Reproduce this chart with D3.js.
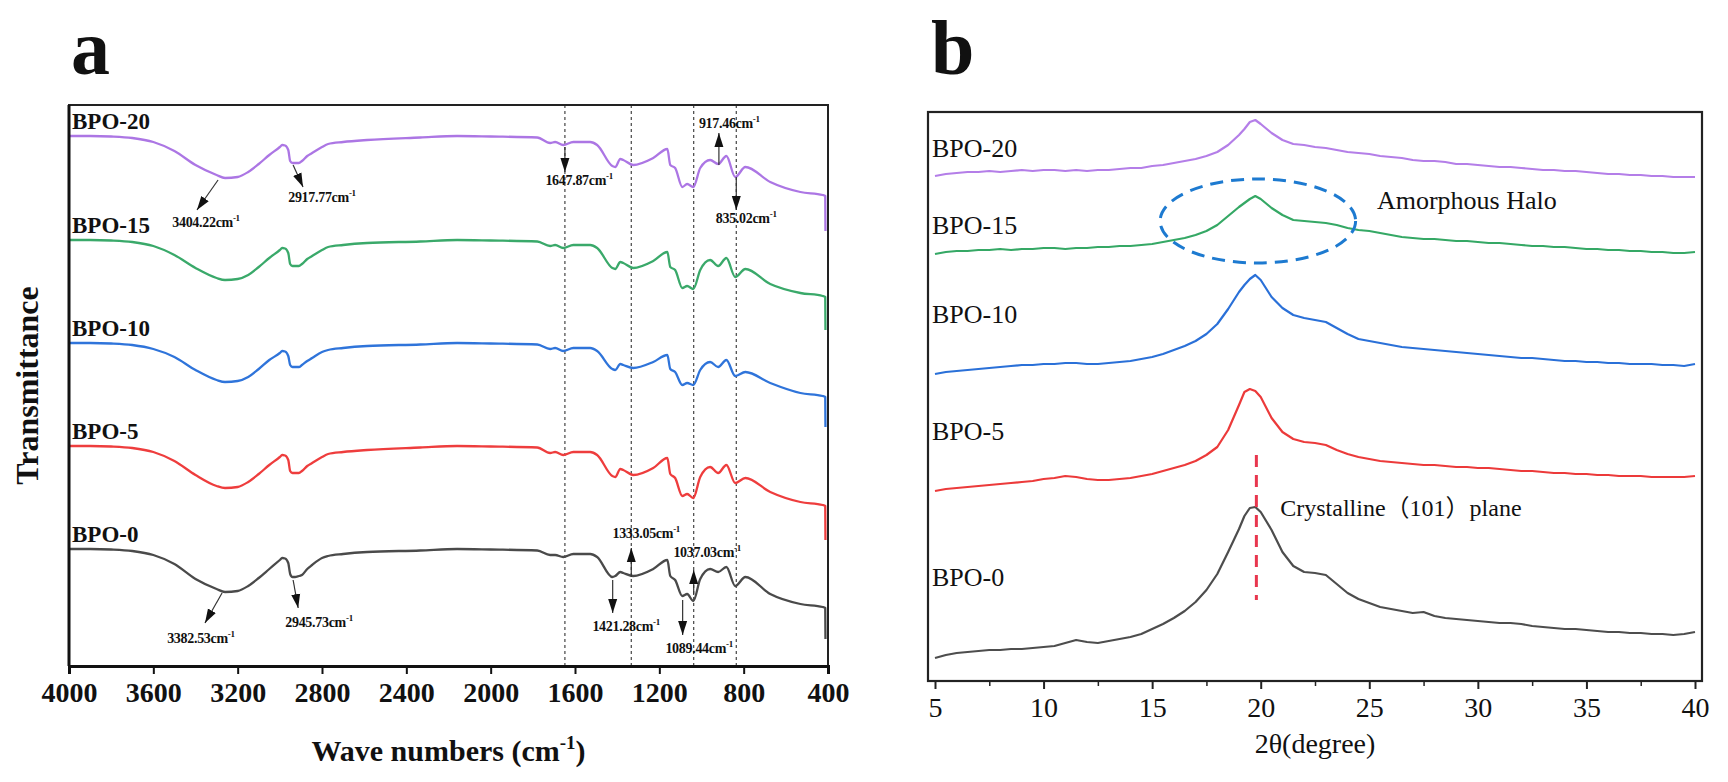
<!DOCTYPE html>
<html>
<head>
<meta charset="utf-8">
<script src="https://d3js.org/d3.v7.min.js"></script>
<style>
  html, body { margin: 0; padding: 0; background: #fff; }
  svg { display: block; }
  text { font-family: "Times New Roman", "Liberation Serif", "Noto Sans CJK SC", serif; fill: #111; }
</style>
</head>
<body>
<svg id="chart" width="1728" height="782"></svg>
<script>
// ---------- data: FTIR (panel a) ----------
const seriesNames = ["BPO-0", "BPO-5", "BPO-10", "BPO-15", "BPO-20"];
const seriesColors = ["#4a4a4a", "#ee3d3d", "#2f74da", "#3aa96a", "#ac76e4"];

const wavenumbers = [4000, 3900, 3800, 3700, 3600, 3500, 3400, 3300, 3260, 3200,
  3150, 3100, 3050, 3000, 2989, 2975, 2960, 2951, 2940, 2928,
  2910, 2895, 2870, 2847, 2800, 2771, 2700, 2586, 2334, 2159,
  2000, 1779, 1718, 1694, 1656, 1608, 1528, 1495, 1423, 1409,
  1385, 1371, 1324, 1229, 1162, 1148, 1125, 1091, 1068, 1039,
  1006, 959, 921, 882, 840, 792, 674, 531, 425, 413, 412];

// absorption drop below each trace's flat baseline (a.u.)
const dropBPO0 = [0, 0, 0.5, 2, 6, 15, 30, 40, 43, 42,
  37, 29, 20, 11, 9, 9.5, 14, 25, 28, 28,
  27, 26, 20, 16, 9, 7, 5, 3, 1.5, 0,
  0.5, 1.5, 6, 6, 8, 5, 5, 8, 28, 27,
  23, 24, 27, 20, 11, 27, 31, 47, 45, 52,
  30, 20, 23, 18, 37, 28, 45, 55, 58, 59, 90];
const dropBPO5 = [0, 0, 0.5, 2, 6, 15, 29, 40, 42, 41,
  36, 28, 19, 11, 9, 9.5, 14, 25, 27, 27,
  27, 25, 20, 17, 11, 8, 6, 4, 1.5, 0,
  0.5, 1.5, 7, 6, 9, 6, 6, 9, 30, 31,
  23, 24, 29, 22, 12, 28, 32, 50, 48, 52,
  31, 21, 27, 19, 37, 32, 46, 56, 59, 60, 94];
const dropBPO10 = [0, 0, 0.5, 2, 6, 14, 27, 37, 39, 38,
  34, 26, 17, 10, 8, 8.5, 13, 22, 24, 24,
  24, 22, 18, 15, 9, 7, 5, 3, 1.5, 0,
  0.5, 1.5, 6, 5, 8, 5, 5, 8, 26, 27,
  21, 22, 25, 19, 12, 26, 29, 42, 40, 42,
  27, 19, 24, 17, 33, 29, 40, 50, 53, 54, 84];
const dropBPO15 = [0, 0, 0.5, 2, 6, 15, 28, 38, 40, 39,
  35, 27, 18, 10, 8, 8.5, 13, 24, 26, 26,
  26, 24, 19, 16, 10, 7, 5, 3, 1.5, 0,
  0.5, 1.5, 6, 5, 8, 5, 5, 8, 28, 29,
  22, 23, 28, 21, 12, 27, 30, 48, 46, 49,
  30, 20, 26, 18, 37, 29, 44, 53, 56, 57, 90];
const dropBPO20 = [0, 0, 0.5, 2, 6, 15, 29, 39, 42, 41,
  36, 28, 19, 11, 9, 9.5, 14, 25, 27, 27,
  27, 25, 20, 17, 11, 8, 6, 4, 1.5, 0,
  0.5, 1.5, 7, 6, 9, 6, 6, 9, 30, 31,
  23, 24, 29, 22, 13, 29, 32, 51, 48, 51,
  32, 24, 28, 20, 41, 31, 46, 56, 59, 60, 95];
const ftirDrops = [dropBPO0, dropBPO5, dropBPO10, dropBPO15, dropBPO20];
// vertical offset of each trace (a.u.)
const ftirOffsets = [117, 220, 323, 426, 530];

const ftirTicks = [4000, 3600, 3200, 2800, 2400, 2000, 1600, 1200, 800, 400];
const ftirGuides = [1647.87, 1333.05, 1037.03, 835.02];

// peak callouts: arrow from -> to, label centre at "at" (wavenumber, a.u.)
const ftirPeaks = [
  { text: "3404.22", from: [3293, 486], to: [3393, 456], at: [3350, 444] },
  { text: "2917.77", from: [2937, 501], to: [2890, 479], at: [2800, 469] },
  { text: "1647.87", from: [1647.87, 519], to: [1647.87, 494], at: [1580, 486] },
  { text: "917.46", from: [917.46, 501], to: [917.46, 533], at: [868, 543] },
  { text: "835.02", from: [835.02, 489], to: [835.02, 456], at: [788, 448] },
  { text: "3382.53", from: [3274, 73], to: [3355, 43], at: [3374, 28] },
  { text: "2945.73", from: [2937, 86], to: [2913, 58], at: [2814, 44] },
  { text: "1333.05", from: [1333.05, 89], to: [1333.05, 118], at: [1262, 133] },
  { text: "1037.03", from: [1037.03, 71], to: [1037.03, 96], at: [973, 114] },
  { text: "1421.28", from: [1421.28, 86], to: [1421.28, 53], at: [1357, 40] },
  { text: "1089.44", from: [1089.44, 66], to: [1089.44, 31], at: [1011, 18] }
];

// ---------- data: XRD (panel b) ----------
const twoTheta = [5, 5.5, 6, 6.5, 7, 7.5, 8, 8.5, 9, 9.5,
  10, 10.5, 11, 11.5, 12, 12.5, 13, 13.5, 14, 14.5,
  15, 15.5, 16, 16.5, 17, 17.5, 18, 18.5, 19, 19.25,
  19.5, 19.75, 20, 20.5, 21, 21.5, 22, 22.5, 23, 23.5,
  24, 24.5, 25, 25.5, 26, 26.5, 27, 27.5, 28, 28.5,
  29, 29.5, 30, 30.5, 31, 31.5, 32, 32.5, 33, 33.5,
  34, 34.5, 35, 35.5, 36, 36.5, 37, 37.5, 38, 38.5,
  39, 39.5, 40];

const xrdBPO0 = [42, 45, 47, 48, 49, 50, 50, 51, 51, 52,
  53, 54, 57, 60, 58, 57, 59, 61, 63, 66,
  71, 76, 82, 89, 98, 110, 126, 148, 171, 184,
  192, 193, 188, 170, 148, 134, 128, 127, 125, 116,
  107, 101, 97, 93, 91, 89, 87, 88, 84, 82,
  81, 80, 79, 78, 77, 77, 76, 74, 73, 72,
  71, 71, 70, 69, 68, 68, 67, 67, 66, 66,
  65, 66, 68];
const xrdBPO5 = [209, 211, 212, 213, 214, 215, 216, 217, 218, 219,
  221, 222, 224, 223, 221, 220, 220, 221, 222, 224,
  226, 229, 232, 235, 239, 245, 253, 270, 295, 308,
  311, 309, 303, 282, 268, 261, 258, 257, 255, 250,
  246, 243, 241, 239, 238, 237, 236, 235, 235, 234,
  233, 233, 232, 232, 231, 230, 229, 229, 228, 227,
  227, 226, 226, 225, 225, 224, 224, 224, 223, 223,
  223, 223, 224];
const xrdBPO10 = [326, 328, 329, 330, 331, 332, 333, 334, 335, 335,
  336, 336, 337, 337, 336, 336, 337, 338, 339, 341,
  343, 346, 350, 354, 359, 366, 376, 391, 408, 415,
  421, 425, 420, 403, 392, 385, 382, 380, 378, 372,
  366, 361, 359, 357, 355, 353, 352, 351, 350, 349,
  348, 347, 346, 345, 344, 343, 342, 342, 341, 340,
  339, 339, 338, 338, 337, 337, 336, 336, 336, 335,
  335, 334, 336];
const xrdBPO15 = [446, 448, 449, 449, 450, 450, 451, 450, 451, 451,
  452, 452, 451, 452, 452, 453, 453, 454, 454, 455,
  456, 458, 460, 462, 465, 469, 475, 484, 493, 497,
  501, 504, 501, 492, 485, 480, 479, 478, 477, 475,
  472, 470, 469, 467, 465, 463, 462, 461, 461, 460,
  459, 459, 458, 457, 457, 456, 455, 454, 454, 453,
  453, 452, 451, 451, 450, 450, 449, 449, 448, 448,
  447, 447, 448];
const xrdBPO20 = [524, 526, 527, 528, 528, 529, 528, 529, 530, 529,
  530, 530, 529, 530, 529, 530, 530, 531, 532, 532,
  534, 535, 537, 539, 541, 544, 548, 555, 565, 571,
  578, 580, 576, 567, 560, 556, 555, 553, 552, 550,
  548, 547, 546, 544, 543, 542, 540, 539, 539, 538,
  536, 536, 535, 534, 533, 533, 532, 531, 530, 530,
  529, 529, 528, 527, 526, 526, 525, 525, 524, 524,
  523, 523, 523];
const xrdSeries = [xrdBPO0, xrdBPO5, xrdBPO10, xrdBPO15, xrdBPO20];
const xrdColors = ["#4d4d4d", "#ec3a3a", "#2a70d8", "#35a865", "#b47ee8"];
const xrdLabelLevels = [114, 260, 377, 466, 543];

const xrdTicks = [5, 10, 15, 20, 25, 30, 35, 40];
const xrdMinorTicks = [7.5, 12.5, 17.5, 22.5, 27.5, 32.5, 37.5];
const crystallinePeak = 19.8;

// ---------- layout ----------
const svg = d3.select("#chart");
svg.append("rect").attr("width", 1728).attr("height", 782).attr("fill", "#fff");

const boxA = { left: 69, right: 828, top: 105, bottom: 666 };
const boxB = { left: 928, right: 1702, top: 112, bottom: 681 };

const xA = d3.scaleLinear().domain([4000, 400]).range([boxA.left, boxA.right]);
const yA = d3.scaleLinear().domain([0, 561]).range([boxA.bottom, boxA.top]);
const xB = d3.scaleLinear().domain([5, 40]).range([935, 1695]);
const yB = d3.scaleLinear().domain([19, 588]).range([boxB.bottom, boxB.top]);

const defs = svg.append("defs");
defs.append("marker")
  .attr("id", "head")
  .attr("viewBox", "0 -5 14 10")
  .attr("refX", 14).attr("refY", 0)
  .attr("markerWidth", 14).attr("markerHeight", 10)
  .attr("markerUnits", "userSpaceOnUse")
  .attr("orient", "auto")
  .append("path").attr("d", "M0,-4.5L14,0L0,4.5Z").attr("fill", "#111");

// panel letters
svg.append("text").attr("x", 71).attr("y", 74)
  .style("font-size", "78px").style("font-weight", "bold").text("a");
svg.append("text").attr("x", 931).attr("y", 74)
  .style("font-size", "78px").style("font-weight", "bold").text("b");

// ---------- panel a ----------
const gA = svg.append("g");

gA.selectAll("line.guide").data(ftirGuides).join("line")
  .attr("class", "guide")
  .attr("x1", d => xA(d)).attr("x2", d => xA(d))
  .attr("y1", boxA.top).attr("y2", boxA.bottom)
  .attr("stroke", "#444").attr("stroke-width", 1.2)
  .attr("stroke-dasharray", "3,3");

const lineA = d3.line()
  .x(d => xA(d[0])).y(d => yA(d[1]))
  .curve(d3.curveMonotoneX);

ftirDrops.forEach((drops, s) => {
  const pts = wavenumbers.map((w, i) => [w, ftirOffsets[s] - drops[i]]);
  gA.append("path").attr("d", lineA(pts))
    .attr("fill", "none").attr("stroke", seriesColors[s])
    .attr("stroke-width", 2.3).attr("stroke-linejoin", "round");
  gA.append("text")
    .attr("x", boxA.left + 3).attr("y", yA(ftirOffsets[s]) - 7)
    .style("font-size", "23px").style("font-weight", "bold")
    .text(seriesNames[s]);
});

ftirPeaks.forEach(p => {
  gA.append("line")
    .attr("x1", xA(p.from[0])).attr("y1", yA(p.from[1]))
    .attr("x2", xA(p.to[0])).attr("y2", yA(p.to[1]))
    .attr("stroke", "#333").attr("stroke-width", 1.2)
    .attr("marker-end", "url(#head)");
  const t = gA.append("text")
    .attr("x", xA(p.at[0])).attr("y", yA(p.at[1]) + 5)
    .attr("text-anchor", "middle")
    .style("font-size", "14px").style("font-weight", "bold")
    .style("letter-spacing", "-0.3px");
  t.append("tspan").text(p.text + "cm");
  t.append("tspan").attr("dy", -6).style("font-size", "9px").text("-1");
});

// frame + axis
gA.append("rect")
  .attr("x", boxA.left).attr("y", boxA.top)
  .attr("width", boxA.right - boxA.left).attr("height", boxA.bottom - boxA.top)
  .attr("fill", "none").attr("stroke", "#222").attr("stroke-width", 2);
gA.append("line").attr("x1", boxA.left).attr("x2", boxA.left)
  .attr("y1", boxA.top).attr("y2", boxA.bottom).attr("stroke", "#111").attr("stroke-width", 3);

const axA = gA.append("g")
  .attr("transform", `translate(0,${boxA.bottom})`)
  .call(d3.axisBottom(xA).tickValues(ftirTicks).tickSize(8).tickPadding(8).tickFormat(d3.format("d")));
axA.select(".domain").attr("stroke", "#111").attr("stroke-width", 3);
axA.selectAll(".tick line").attr("stroke", "#111").attr("stroke-width", 2);
axA.selectAll(".tick text")
  .style("font-size", "28px").style("font-weight", "bold")
  .style("font-family", "'Times New Roman', 'Liberation Serif', serif")
  .attr("fill", "#111");

const xlabA = gA.append("text")
  .attr("x", (boxA.left + boxA.right) / 2).attr("y", 761)
  .attr("text-anchor", "middle")
  .style("font-size", "30px").style("font-weight", "bold");
xlabA.append("tspan").text("Wave numbers (cm");
xlabA.append("tspan").attr("dy", -12).style("font-size", "19px").text("-1");
xlabA.append("tspan").attr("dy", 12).text(")");

gA.append("text")
  .attr("transform", `translate(38,${(boxA.top + boxA.bottom) / 2}) rotate(-90)`)
  .attr("text-anchor", "middle")
  .style("font-size", "32px").style("font-weight", "bold")
  .text("Transmittance");

// ---------- panel b ----------
const gB = svg.append("g");

const lineB = d3.line().x(d => xB(d[0])).y(d => yB(d[1]));

xrdSeries.forEach((vals, s) => {
  const pts = twoTheta.map((t, i) => [t, vals[i]]);
  gB.append("path").attr("d", lineB(pts))
    .attr("fill", "none").attr("stroke", xrdColors[s])
    .attr("stroke-width", 2.2).attr("stroke-linejoin", "round");
  gB.append("text")
    .attr("x", boxB.left + 4).attr("y", yB(xrdLabelLevels[s]))
    .style("font-size", "26px").attr("fill", "#222")
    .text(seriesNames[s]);
});

// amorphous halo
gB.append("ellipse")
  .attr("cx", xB(19.87)).attr("cy", yB(479))
  .attr("rx", xB(19.87 + 4.5) - xB(19.87)).attr("ry", 42)
  .attr("fill", "none").attr("stroke", "#1d7ad0")
  .attr("stroke-width", 3).attr("stroke-dasharray", "13,8");
gB.append("text")
  .attr("x", xB(25.35)).attr("y", yB(491))
  .style("font-size", "26px").attr("fill", "#222")
  .text("Amorphous Halo");

// crystalline peak marker
gB.append("line")
  .attr("x1", xB(crystallinePeak)).attr("x2", xB(crystallinePeak))
  .attr("y1", yB(245)).attr("y2", yB(100))
  .attr("stroke", "#e8364e").attr("stroke-width", 3)
  .attr("stroke-dasharray", "12,8");
gB.append("text")
  .attr("x", xB(20.9)).attr("y", yB(184))
  .style("font-size", "24px").attr("fill", "#222")
  .text("Crystalline（101）plane");

gB.append("rect")
  .attr("x", boxB.left).attr("y", boxB.top)
  .attr("width", boxB.right - boxB.left).attr("height", boxB.bottom - boxB.top)
  .attr("fill", "none").attr("stroke", "#222").attr("stroke-width", 2.2);

const axB = gB.append("g")
  .attr("transform", `translate(0,${boxB.bottom})`)
  .call(d3.axisBottom(xB).tickValues(xrdTicks).tickSize(8).tickPadding(8));
axB.select(".domain").remove();
axB.selectAll(".tick line").attr("stroke", "#222").attr("stroke-width", 2);
axB.selectAll(".tick text")
  .style("font-size", "28px")
  .style("font-family", "'Times New Roman', 'Liberation Serif', serif")
  .attr("fill", "#222");

const axBminor = gB.append("g")
  .attr("transform", `translate(0,${boxB.bottom})`)
  .call(d3.axisBottom(xB).tickValues(xrdMinorTicks).tickSize(5).tickFormat(""));
axBminor.select(".domain").remove();
axBminor.selectAll(".tick line").attr("stroke", "#222").attr("stroke-width", 1.5);

gB.append("text")
  .attr("x", (boxB.left + boxB.right) / 2).attr("y", 753)
  .attr("text-anchor", "middle")
  .style("font-size", "28px").attr("fill", "#222")
  .text("2θ(degree)");
</script>
</body>
</html>
